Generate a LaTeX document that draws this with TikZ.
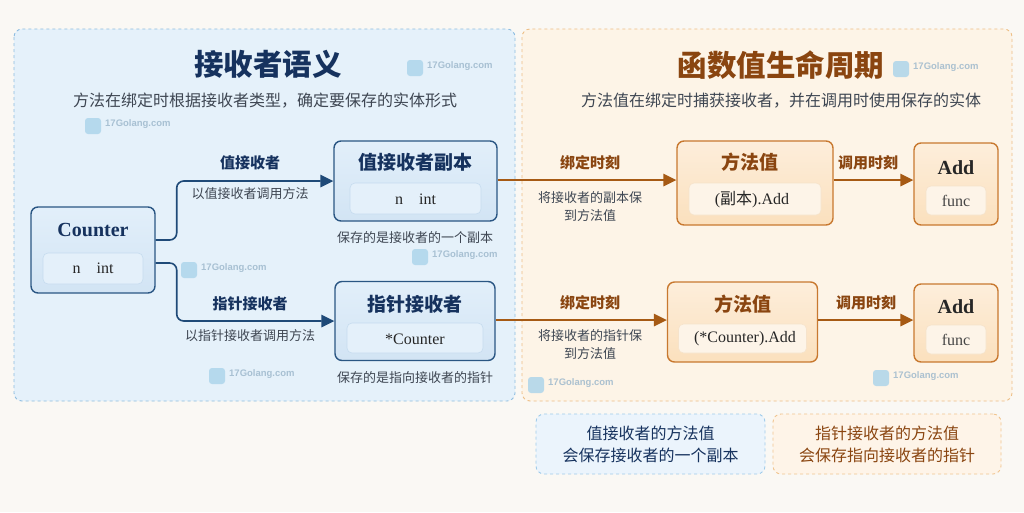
\documentclass[tikz,border=0pt]{standalone}
\usepackage{fontspec}
\setmainfont{Liberation Serif}
\newfontfamily\cjk{Noto Sans CJK SC}
\newfontfamily\wmfont{Liberation Sans}
\usetikzlibrary{arrows.meta}
\definecolor{pagebg}{HTML}{FAF8F4}
\definecolor{blueBg}{HTML}{E5F1FA}
\definecolor{blueDash}{HTML}{8CBCE0}
\definecolor{orBg}{HTML}{FDF4E7}
\definecolor{orDash}{HTML}{EDBE85}
\definecolor{navyT}{HTML}{16325E}
\definecolor{navyB}{HTML}{2A5683}
\definecolor{navyA}{HTML}{1F4A78}
\definecolor{nbTop}{HTML}{E2EFFA}
\definecolor{nbBot}{HTML}{D2E4F4}
\definecolor{inB}{HTML}{E4F0FA}
\definecolor{inBd}{HTML}{C6DCEF}
\definecolor{grayT}{HTML}{3E4652}
\definecolor{orB}{HTML}{C8782F}
\definecolor{noTop}{HTML}{FDEEDB}
\definecolor{noBot}{HTML}{FBE0BD}
\definecolor{inO}{HTML}{FDF4E8}
\definecolor{inOd}{HTML}{F6E3CB}
\definecolor{brownA}{HTML}{A65A14}
\definecolor{brownT}{HTML}{8A4510}
\definecolor{darkT}{HTML}{262626}
\definecolor{funcT}{HTML}{444444}
\definecolor{noteB}{HTML}{EBF4FC}
\definecolor{noteBd}{HTML}{9FCBEA}
\definecolor{noteO}{HTML}{FEF4E8}
\definecolor{noteOd}{HTML}{F0C48E}
\definecolor{wm}{HTML}{9DB8CC}
\definecolor{wmicon}{HTML}{A9D3EA}
\tikzset{
  panelL/.style={draw=blueDash, dashed, line width=0.9, fill=blueBg, rounded corners=8},
  panelR/.style={draw=orDash, dashed, line width=0.9, fill=orBg, rounded corners=8},
  nodeB/.style={draw=navyB, line width=1.4, top color=nbTop, bottom color=nbBot, rounded corners=7, inner sep=0},
  innerB/.style={draw=inBd, line width=0.6, fill=inB, rounded corners=5, inner sep=0},
  nodeO/.style={draw=orB, line width=1.4, top color=noTop, bottom color=noBot, rounded corners=7, inner sep=0},
  innerO/.style={draw=inOd, line width=0.6, fill=inO, rounded corners=5, inner sep=0},
  arrB/.style={draw=navyA, line width=1.6, rounded corners=7, -{Triangle[length=13pt,width=12.5pt]}},
  arrO/.style={draw=brownA, line width=1.6, -{Triangle[length=13pt,width=12.5pt]}},
  ntitleB/.style={font=\cjk\bfseries\fontsize{19}{22}\selectfont, text=navyT},
  ntitleO/.style={font=\cjk\bfseries\fontsize{19}{22}\selectfont, text=brownT},
  serifT/.style={font=\bfseries\fontsize{20}{24}\selectfont},
  field/.style={font=\fontsize{16}{19}\selectfont, text=darkT},
  lblB/.style={font=\cjk\bfseries\fontsize{15}{18}\selectfont, text=navyT},
  lblO/.style={font=\cjk\bfseries\fontsize{15}{18}\selectfont, text=brownT},
  capt/.style={font=\cjk\fontsize{13}{18}\selectfont, text=grayT, align=center},
  noteBs/.style={draw=noteBd, dashed, line width=0.9, fill=noteB, rounded corners=8, font=\cjk\fontsize{16}{22}\selectfont, text=navyT, align=center, inner sep=0},
  noteOs/.style={draw=noteOd, dashed, line width=0.9, fill=noteO, rounded corners=8, font=\cjk\fontsize{16}{22}\selectfont, text=brownT, align=center, inner sep=0},
  wmtext/.style={font=\wmfont\bfseries\fontsize{9.5}{11}\selectfont, text=wm, anchor=west, inner sep=0},
  bigtitle/.style={font=\cjk\bfseries\fontsize{29.5}{32}\selectfont},
  subt/.style={font=\cjk\fontsize{16}{18}\selectfont, text=grayT},
}
\newcommand{\wmark}[3]{%
  \fill[wmicon, opacity=0.8, rounded corners=3] (#1,#2) rectangle ++(16,16);
  \node[wmtext, opacity=0.85] (#3) at (#1+20,#2+6) {17Golang.com};
}
\begin{document}
\begin{tikzpicture}[x=1pt,y=-1pt]
\useasboundingbox (0,0) rectangle (1024,512);
\fill[pagebg] (0,0) rectangle (1024,512);

% panels
\draw[panelL] (14,29) rectangle (515,401);
\draw[panelR] (522,29) rectangle (1012,401);

% titles
\node[bigtitle, text=navyT] (tl) at (268,64) {接收者语义};
\node[subt] (sl) at (265,101) {方法在绑定时根据接收者类型，确定要保存的实体形式};
\node[bigtitle, text=brownT] (tr) at (781,65) {函数值生命周期};
\node[subt] (sr) at (781,101) {方法值在绑定时捕获接收者，并在调用时使用保存的实体};

% watermarks
\wmark{407}{60}{w1}
\wmark{85}{118}{w2}
\wmark{181}{262}{w3}
\wmark{412}{249}{w4}
\wmark{209}{368}{w5}
\wmark{893}{61}{w6}
\wmark{528}{377}{w7}
\wmark{873}{370}{w8}

% Counter
\node[nodeB, minimum width=124, minimum height=86] (counter) at (93,250) {};
\node[serifT, text=navyT] (counterT) at (93,230) {Counter};
\node[innerB, minimum width=100, minimum height=31] (counterF) at (93,268.5) {};
\node[field] (counterFT) at (93,268.5) {n\hspace{16pt}int};

% value copy
\node[nodeB, minimum width=163, minimum height=80] (copy) at (415.5,181) {};
\node[ntitleB] (copyT) at (415.5,162) {值接收者副本};
\node[innerB, minimum width=131, minimum height=31] (copyF) at (415.5,198.5) {};
\node[field] (copyFT) at (415.5,199) {n\hspace{16pt}int};
\node[capt] (copyC) at (415,238) {保存的是接收者的一个副本};

% pointer
\node[nodeB, minimum width=160, minimum height=79] (ptr) at (415,321) {};
\node[ntitleB] (ptrT) at (415,304) {指针接收者};
\node[innerB, minimum width=136, minimum height=30] (ptrF) at (415,338) {};
\node[field] (ptrFT) at (415,339) {*Counter};
\node[capt] (ptrC) at (415,378) {保存的是指向接收者的指针};

% left connectors
\draw[arrB] ([yshift=10pt]counter.east) -- ++(21,0) |- (copy.west);
\draw[arrB] ([yshift=-13pt]counter.east) -- ++(21,0) |- (ptr.west);
\node[lblB] (l1) at (250,163) {值接收者};
\node[capt] (l1c) at (250,194) {以值接收者调用方法};
\node[lblB] (l2) at (250,304) {指针接收者};
\node[capt] (l2c) at (250,336) {以指针接收者调用方法};

% method value upper
\node[nodeO, minimum width=156, minimum height=84] (mv1) at (755,183) {};
\node[ntitleO] (mv1T) at (750,162) {方法值};
\node[innerO, minimum width=132, minimum height=32] (mv1F) at (755,199) {};
\node[field] (mv1FT) at (752,199) {({\cjk 副本}).Add};

% Add upper
\node[nodeO, minimum width=84, minimum height=82] (add1) at (956,184) {};
\node[serifT, text=darkT] (add1T) at (956,168) {Add};
\node[innerO, minimum width=60, minimum height=29] (add1F) at (956,200.5) {};
\node[field, text=funcT] (add1FT) at (956,201) {func};

% method value lower
\node[nodeO, minimum width=150, minimum height=80] (mv2) at (742.5,322) {};
\node[ntitleO] (mv2T) at (742.5,304) {方法值};
\node[innerO, minimum width=128, minimum height=29] (mv2F) at (742.5,338.5) {};
\node[field] (mv2FT) at (745,339) {(*Counter).Add};

% Add lower
\node[nodeO, minimum width=84, minimum height=78] (add2) at (956,323) {};
\node[serifT, text=darkT] (add2T) at (956,307) {Add};
\node[innerO, minimum width=60, minimum height=29] (add2F) at (956,339.5) {};
\node[field, text=funcT] (add2FT) at (956,340) {func};

% right connectors
\draw[arrO] ([yshift=1pt]copy.east) -- ([yshift=1pt]copy.east -| mv1.west);
\draw[arrO] ([yshift=1pt]mv1.east |- copy.east) -- ([yshift=1pt]copy.east -| add1.west);
\draw[arrO] ([yshift=1pt]ptr.east) -- ([yshift=1pt]ptr.east -| mv2.west);
\draw[arrO] ([yshift=1pt]mv2.east |- ptr.east) -- ([yshift=1pt]ptr.east -| add2.west);

\node[lblO] (b1) at (590,163) {绑定时刻};
\node[capt] (b1c) at (590,207) {将接收者的副本保\\到方法值};
\node[lblO] (c1) at (868,163) {调用时刻};
\node[lblO] (b2) at (590,303) {绑定时刻};
\node[capt] (b2c) at (590,345) {将接收者的指针保\\到方法值};
\node[lblO] (c2) at (866,303) {调用时刻};

% notes
\node[noteBs, minimum width=229, minimum height=60] (n1) at (650.5,444) {值接收者的方法值\\会保存接收者的一个副本};
\node[noteOs, minimum width=228, minimum height=60] (n2) at (887,444) {指针接收者的方法值\\会保存指向接收者的指针};
\end{tikzpicture}
\end{document}
